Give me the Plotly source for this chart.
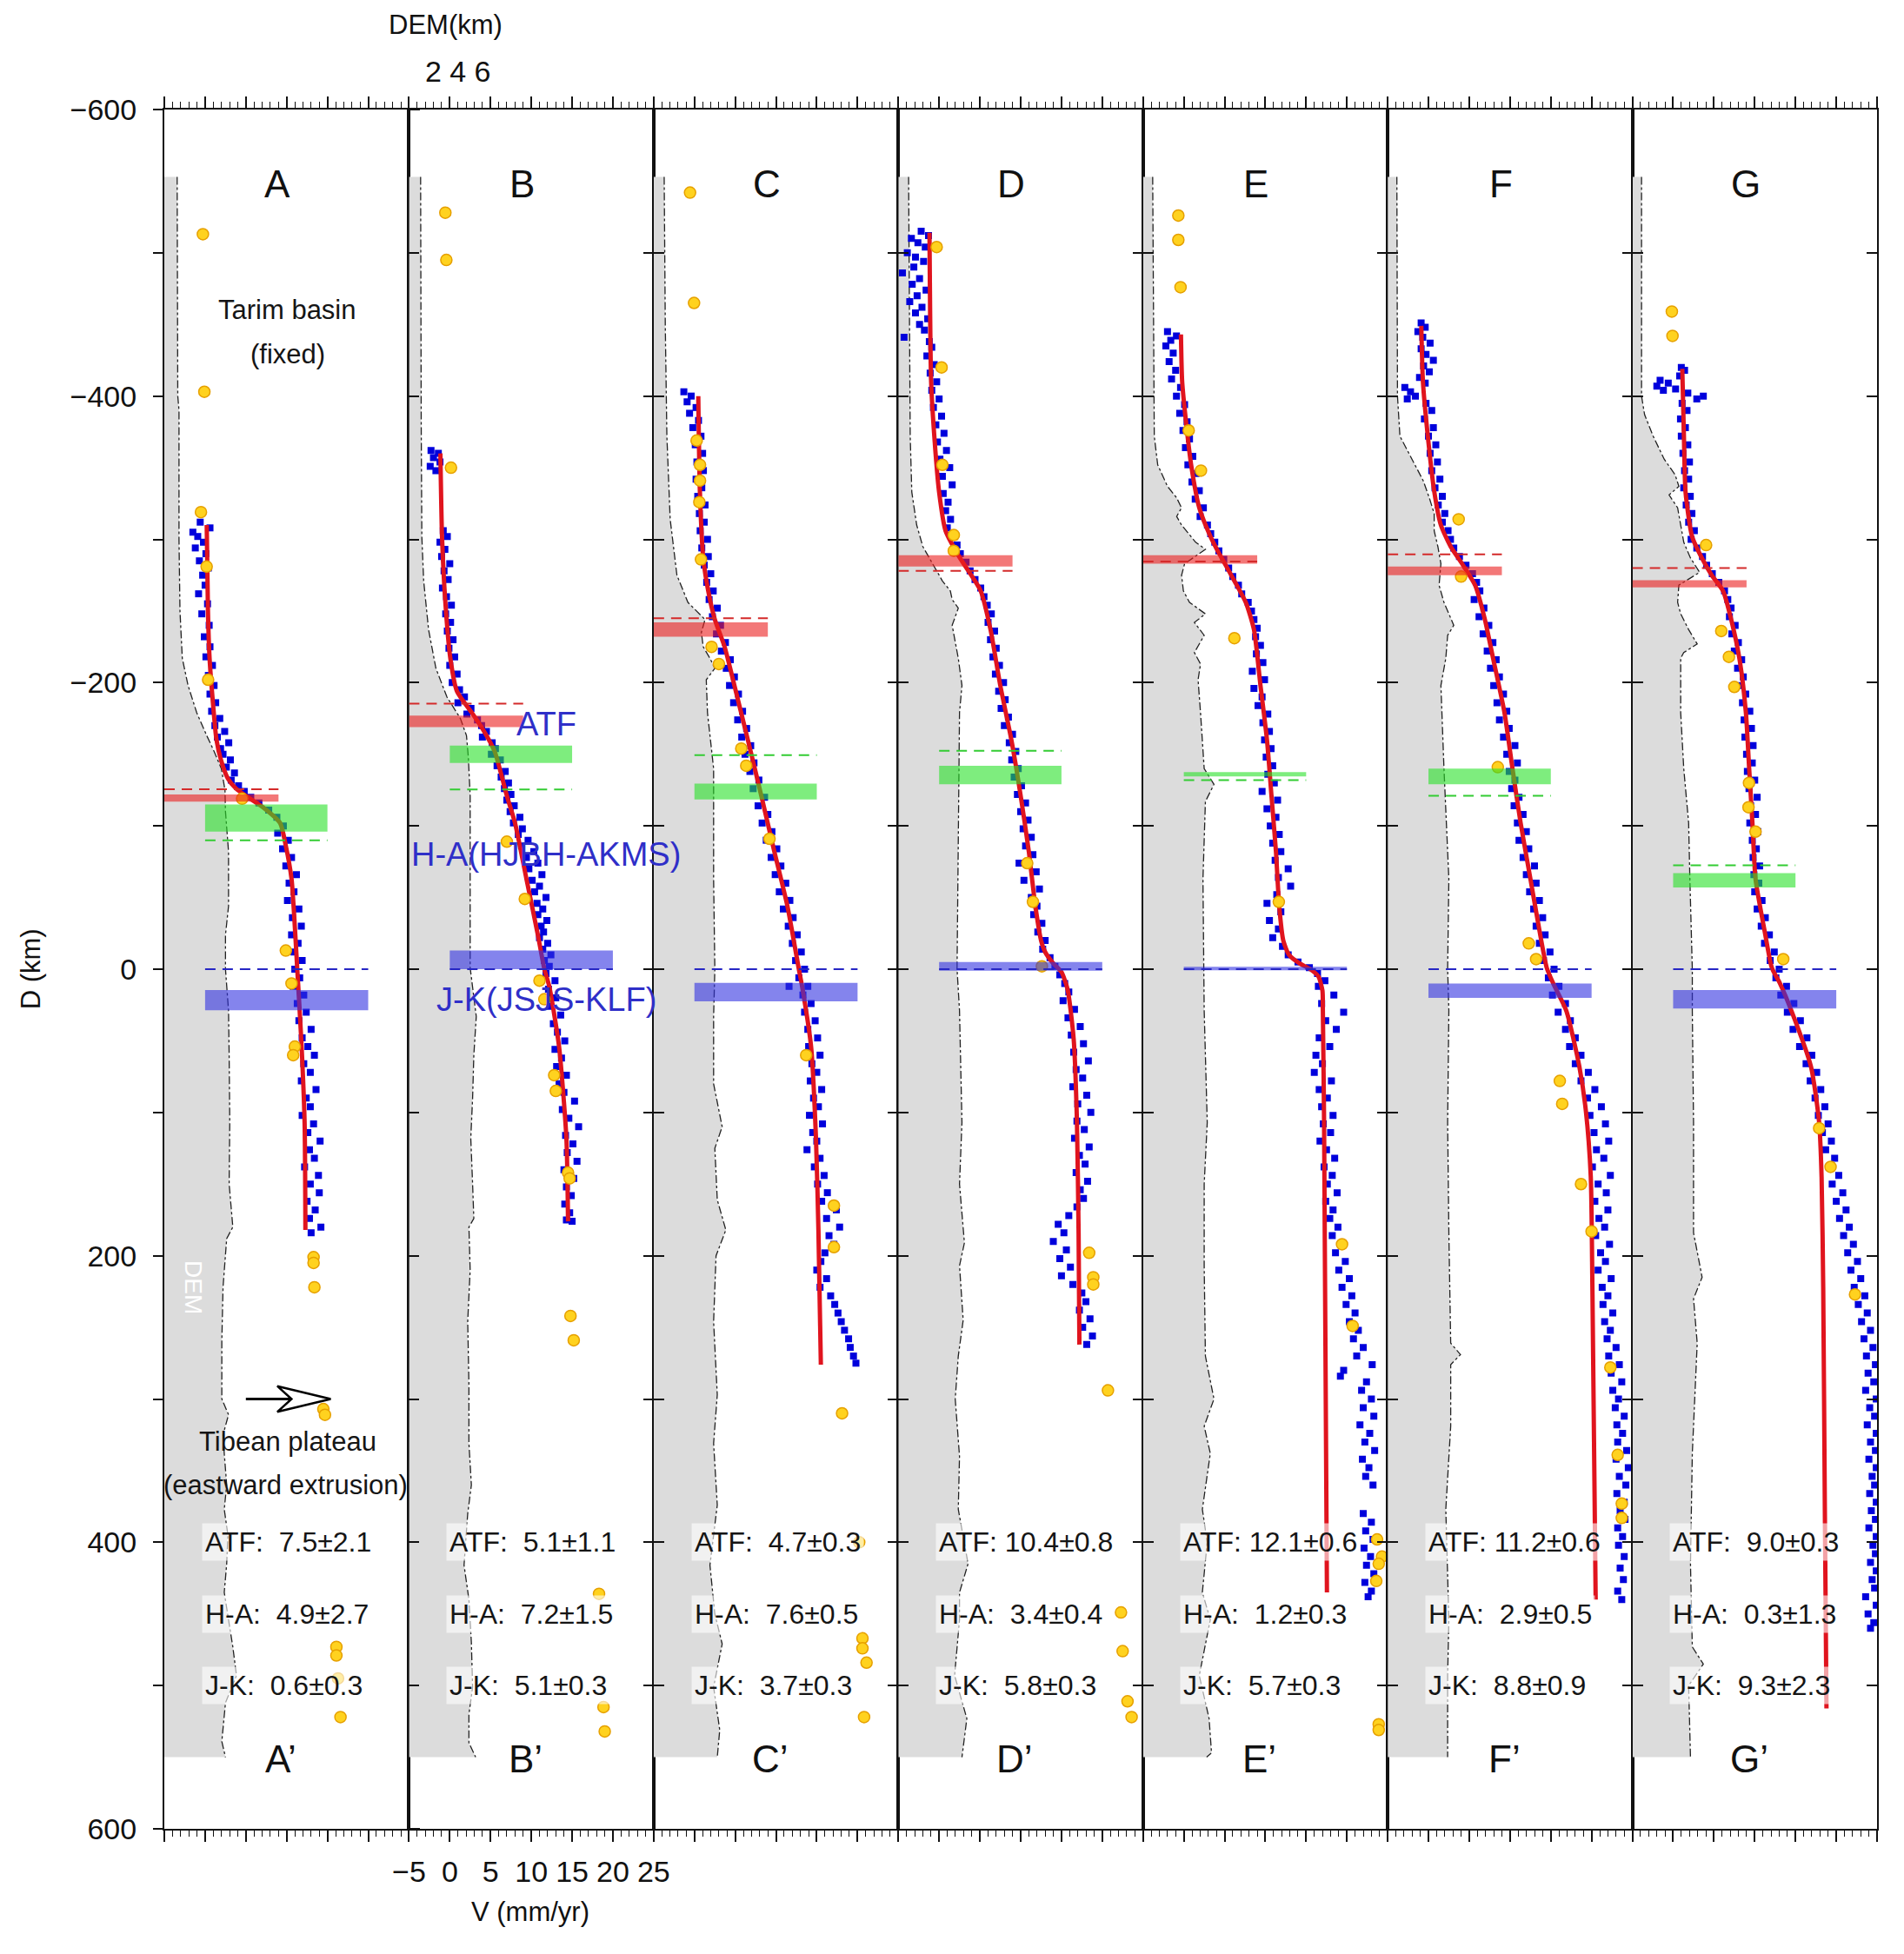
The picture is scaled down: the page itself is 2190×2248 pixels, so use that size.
import plotly.graph_objects as go

panels = ["A", "B", "C", "D", "E", "F", "G"]

# topography along each profile: (D km, elevation km)
dem_A = [(-553, 1.05), (-500, 1.05), (-450, 1.1), (-400, 1.1), (-390, 1.2), (-300, 1.2), (-250, 1.28), (-217, 1.47),
         (-198, 1.94), (-179, 2.65), (-163, 3.47), (-152, 4.07), (-140, 4.66), (-125, 4.96), (-110, 5.0), (-82, 5.25),
         (-44, 5.25), (-24, 5.0), (0, 5.0), (29, 5.25), (60, 5.3), (107, 5.35), (150, 5.3), (180, 5.6), (188, 5.1),
         (222, 4.8), (260, 4.7), (300, 4.7), (311, 5.25), (325, 4.8), (338, 4.9), (360, 5.1), (377, 4.9), (395, 5.2),
         (415, 5.1), (435, 4.9), (454, 5.25), (473, 5.6), (493, 5.9), (512, 5.0), (539, 4.7), (550, 5.0)]
dem_B = [(-553, 0.95), (-450, 0.95), (-380, 1.0), (-302, 1.05), (-271, 1.2), (-237, 1.6), (-210, 2.2), (-190, 3.1),
         (-175, 4.2), (-163, 4.7), (-148, 4.85), (-121, 5.0), (-80, 5.0), (-40, 5.0), (-1, 5.0), (33, 5.5), (60, 5.3),
         (90, 5.2), (118, 5.05), (150, 5.2), (174, 5.3), (180, 4.9), (210, 5.0), (246, 4.8), (290, 4.9), (331, 4.9),
         (360, 5.1), (380, 4.8), (416, 4.5), (440, 4.9), (470, 5.1), (501, 5.2), (520, 4.9), (540, 4.9), (550, 5.45)]
dem_C = [(-553, 0.86), (-449, 0.95), (-372, 1.08), (-314, 1.35), (-275, 1.9), (-256, 2.8), (-244, 4.2), (-235, 3.9),
         (-225, 4.05), (-217, 4.6), (-210, 5.0), (-202, 4.3), (-179, 4.4), (-140, 4.9), (-63, 4.9), (0, 5.0), (33, 4.9),
         (80, 4.9), (110, 5.6), (125, 5.0), (161, 5.2), (182, 5.9), (200, 5.1), (246, 4.9), (297, 5.2), (331, 4.9),
         (374, 5.2), (416, 4.6), (450, 5.0), (471, 5.6), (501, 4.9), (531, 5.4), (550, 5.2)]
dem_D = [(-553, 0.84), (-450, 0.9), (-372, 0.97), (-333, 1.1), (-310, 1.5), (-295, 2.0), (-283, 2.8), (-271, 3.6),
         (-264, 4.25), (-258, 4.4), (-252, 4.9), (-240, 4.4), (-217, 4.9), (-198, 5.2), (-179, 5.0), (-101, 4.9),
         (0, 4.8), (29, 5.0), (107, 5.2), (150, 5.0), (191, 5.4), (207, 5.0), (245, 5.3), (270, 4.9), (300, 4.65),
         (340, 5.0), (377, 4.9), (415, 5.7), (435, 5.0), (454, 5.0), (493, 4.6), (523, 5.6), (550, 5.2)]
dem_E = [(-553, 0.79), (-450, 0.85), (-372, 0.92), (-352, 1.2), (-337, 2.0), (-329, 2.75), (-322, 3.15), (-316, 2.75),
         (-310, 3.15), (-298, 4.3), (-293, 5.1), (-283, 3.4), (-275, 3.15), (-264, 3.3), (-256, 3.8), (-248, 5.1),
         (-242, 4.2), (-233, 5.0), (-221, 4.2), (-213, 4.7), (-202, 4.5), (-179, 4.7), (-140, 5.0), (-129, 5.8),
         (-117, 5.1), (-63, 4.9), (0, 5.0), (29, 5.0), (107, 5.25), (150, 5.0), (207, 5.0), (270, 5.1), (300, 5.8),
         (319, 5.0), (338, 5.5), (377, 4.85), (400, 5.25), (435, 4.85), (454, 5.5), (493, 4.6), (523, 5.4),
         (547, 5.6), (550, 5.2)]
dem_F = [(-553, 0.75), (-400, 0.8), (-372, 1.0), (-356, 1.95), (-341, 2.9), (-329, 3.4), (-318, 3.8), (-306, 3.8),
         (-295, 4.1), (-283, 4.35), (-268, 4.2), (-256, 4.6), (-240, 5.4), (-233, 4.9), (-217, 4.75), (-198, 4.35),
         (-140, 4.6), (-63, 5.0), (0, 4.9), (29, 5.0), (107, 4.9), (184, 5.0), (261, 5.15), (269, 5.95), (276, 5.15),
         (319, 5.15), (377, 4.75), (454, 5.0), (493, 4.9), (550, 4.9)]
dem_G = [(-553, 0.75), (-400, 0.75), (-387, 1.0), (-372, 1.7), (-356, 2.6), (-345, 3.5), (-337, 3.8), (-331, 3.0),
         (-322, 3.7), (-298, 4.2), (-287, 4.75), (-277, 5.5), (-268, 3.8), (-256, 3.7), (-248, 3.95), (-237, 4.6),
         (-227, 5.3), (-221, 4.2), (-217, 3.95), (-179, 3.95), (-140, 4.2), (-102, 4.6), (-63, 4.7), (0, 4.9),
         (29, 4.9), (107, 5.0), (184, 5.0), (215, 5.7), (230, 5.0), (261, 5.3), (338, 4.9), (415, 4.75), (473, 4.9),
         (485, 5.8), (500, 4.6), (547, 4.75), (550, 4.75)]

# fitted velocity model (D km, V mm/yr)
model_A = [(-310, 0.2), (-250, 0.35), (-217, 0.55), (-190, 0.9), (-160, 1.4), (-145, 2.0), (-133, 2.8), (-126, 3.8),
           (-121, 5.0), (-113, 7.1), (-102, 9.2), (-86, 9.9), (-63, 10.6), (-30, 11.0), (0, 11.3), (50, 11.8),
           (107, 12.2), (182, 12.3)]
model_B = [(-360, -1.15), (-302, -0.95), (-256, -0.54), (-217, 0.07), (-194, 0.88), (-179, 2.7), (-167, 4.1),
           (-152, 5.5), (-121, 7.0), (-102, 8.0), (-63, 9.4), (-24, 10.8), (0, 11.6), (12, 12.2), (54, 13.4),
           (118, 14.3), (176, 14.5)]
model_C = [(-400, 0.47), (-333, 0.67), (-287, 1.08), (-264, 1.69), (-244, 2.5), (-225, 3.7), (-198, 4.9),
           (-160, 6.55), (-121, 8.2), (-82, 9.8), (-44, 11.4), (0, 12.8), (12, 13.2), (54, 14.3), (118, 14.9),
           (182, 15.2), (276, 15.5)]
model_D = [(-514, -1.18), (-410, -0.98), (-372, -0.59), (-333, 0.0), (-306, 0.79), (-287, 2.56), (-275, 3.94),
           (-264, 5.1), (-237, 6.3), (-198, 7.5), (-160, 8.86), (-121, 10.0), (-82, 11.0), (-44, 11.8), (-20, 12.5),
           (-12, 13.0), (-4, 14.0), (2, 15.0), (14, 15.75), (49, 16.5), (107, 16.9), (184, 17.1), (262, 17.2)]
model_E = [(-443, -0.35), (-410, -0.2), (-380, 0.31), (-352, 0.9), (-322, 1.9), (-302, 3.27), (-291, 4.25),
           (-283, 5.04), (-271, 6.2), (-256, 7.6), (-237, 8.6), (-198, 9.4), (-160, 10.2), (-121, 10.75), (-82, 11.3),
           (-44, 11.7), (-20, 12.2), (-10, 12.9), (-4, 14.2), (0, 15.5), (5, 16.5), (15, 17.0), (29, 17.05),
           (107, 17.2), (435, 17.55)]
model_F = [(-449, -0.88), (-410, -0.68), (-372, -0.08), (-333, 0.72), (-310, 1.52), (-295, 2.72), (-283, 4.12),
           (-268, 5.72), (-244, 6.92), (-217, 7.92), (-179, 9.32), (-140, 10.3), (-102, 11.3), (-63, 12.5),
           (-24, 13.7), (-1, 14.5), (10, 15.3), (29, 16.9), (68, 18.5), (99, 19.3), (145, 19.9), (222, 20.1),
           (440, 20.5)]
model_G = [(-419, 1.12), (-372, 1.32), (-333, 1.52), (-302, 2.32), (-287, 3.52), (-275, 4.72), (-264, 6.12),
           (-244, 7.12), (-217, 8.12), (-179, 8.92), (-140, 9.32), (-102, 9.72), (-63, 10.1), (-24, 11.3),
           (-1, 12.1), (10, 13.1), (29, 14.5), (68, 16.9), (107, 17.9), (145, 18.2), (222, 18.4), (377, 18.6),
           (516, 18.8)]

# InSAR profile velocities (D km, V mm/yr)
insar_A = [(-312, -0.6), (-308, 0.6), (-305, -1.5), (-302, -0.9), (-298, -0.2), (-294, -1.2), (-290, 0.1), (-285, -0.7),
           (-280, 0.4), (-275, -0.3), (-268, 0.0), (-262, -0.8), (-255, 0.3), (-248, -0.4), (-240, 0.5), (-232, -0.1),
           (-225, 0.6), (-218, 0.1), (-212, 0.9), (-205, 0.4), (-198, 1.1), (-192, 0.6), (-186, 1.3), (-180, 0.8),
           (-175, 1.8), (-170, 1.2), (-166, 2.4), (-162, 1.5), (-158, 2.9), (-154, 1.9), (-150, 2.2), (-146, 3.1),
           (-141, 2.6), (-137, 3.6), (-132, 3.2), (-128, 4.1), (-124, 4.8), (-120, 5.6), (-116, 6.6), (-111, 7.8),
           (-106, 8.8), (-100, 9.6), (-95, 8.9), (-90, 10.2), (-84, 9.5), (-78, 10.6), (-72, 9.9), (-66, 11.2),
           (-60, 10.3), (-54, 10.9), (-48, 10.1), (-42, 11.5), (-36, 10.7), (-30, 11.8), (-24, 10.6), (-18, 11.4),
           (-12, 10.9), (-6, 11.9), (0, 11.0), (6, 11.6), (12, 10.8), (18, 12.1), (24, 11.3), (30, 12.4), (36, 11.5),
           (42, 13.0), (48, 11.9), (54, 12.6), (60, 13.4), (66, 12.1), (72, 12.9), (78, 11.8), (84, 13.6), (90, 12.4),
           (96, 12.9), (102, 11.9), (108, 13.3), (114, 12.6), (120, 14.1), (126, 12.8), (132, 13.4), (138, 12.2),
           (144, 13.9), (150, 12.9), (156, 14.0), (162, 12.5), (168, 13.5), (174, 12.8), (180, 14.2), (184, 13.0)]
insar_B = [(-362, -2.3), (-360, -1.4), (-357, -2.0), (-354, -1.2), (-351, -2.4), (-348, -1.7), (-306, -0.8),
           (-302, -0.3), (-298, -1.2), (-293, -0.6), (-288, -1.0), (-283, 0.0), (-278, -0.7), (-272, -0.2),
           (-266, -0.9), (-260, -0.4), (-254, 0.2), (-248, -0.5), (-242, 0.1), (-236, -0.3), (-230, 0.4),
           (-224, -0.1), (-218, 0.6), (-212, 0.0), (-206, 0.9), (-200, 0.3), (-195, 1.2), (-190, 1.8), (-186, 1.0),
           (-182, 2.6), (-178, 2.1), (-174, 3.4), (-170, 3.9), (-166, 4.5), (-162, 4.0), (-158, 5.2), (-154, 5.6),
           (-150, 5.1), (-146, 6.2), (-142, 5.8), (-138, 6.8), (-134, 6.3), (-130, 7.2), (-126, 6.7), (-122, 7.5),
           (-118, 7.0), (-114, 7.9), (-110, 7.4), (-106, 8.6), (-102, 7.8), (-98, 8.9), (-94, 8.4), (-90, 9.6),
           (-86, 8.8), (-82, 10.3), (-78, 9.4), (-74, 10.8), (-70, 9.7), (-66, 11.3), (-62, 10.1), (-58, 11.0),
           (-54, 10.4), (-50, 11.8), (-46, 10.7), (-42, 11.4), (-38, 10.8), (-34, 11.9), (-30, 11.2), (-26, 11.5),
           (-22, 11.0), (-18, 12.0), (-14, 11.4), (-10, 12.4), (-6, 11.6), (-2, 12.2), (3, 11.8), (8, 12.9),
           (14, 12.1), (20, 13.0), (26, 12.3), (32, 13.6), (38, 12.7), (44, 13.2), (50, 14.1), (56, 12.9), (62, 13.7),
           (68, 13.1), (74, 14.3), (80, 13.4), (86, 14.0), (92, 15.3), (98, 13.8), (104, 14.6), (110, 15.8),
           (116, 14.2), (122, 15.1), (128, 14.4), (134, 15.6), (140, 14.0), (146, 15.2), (152, 14.3), (158, 14.9),
           (164, 14.1), (170, 14.7), (175, 14.3), (176, 15.0)]
insar_C = [(-403, -1.3), (-400, -0.4), (-396, -0.9), (-392, 0.2), (-388, -0.6), (-383, 0.5), (-378, -0.2), (-372, 0.8),
           (-366, 0.1), (-360, 1.0), (-354, 0.3), (-348, 1.1), (-342, 0.2), (-336, 0.9), (-330, 0.4), (-324, 1.3),
           (-318, 0.6), (-312, 1.2), (-306, 0.7), (-300, 1.6), (-294, 0.9), (-288, 1.7), (-282, 1.2), (-276, 2.0),
           (-270, 1.5), (-264, 2.3), (-258, 1.8), (-252, 2.8), (-246, 2.2), (-240, 3.2), (-234, 2.7), (-228, 3.8),
           (-222, 3.3), (-216, 4.4), (-210, 3.9), (-204, 4.9), (-198, 4.3), (-192, 5.4), (-186, 4.8), (-180, 5.9),
           (-174, 5.3), (-168, 6.4), (-162, 5.8), (-156, 6.9), (-150, 6.2), (-144, 7.3), (-138, 6.8), (-132, 7.9),
           (-126, 7.2), (-120, 8.6), (-114, 7.8), (-108, 9.0), (-102, 8.3), (-96, 9.5), (-90, 8.8), (-84, 10.1),
           (-78, 9.4), (-72, 10.6), (-66, 9.9), (-60, 11.2), (-54, 10.4), (-48, 11.7), (-42, 10.9), (-36, 12.1),
           (-30, 11.5), (-24, 12.6), (-18, 12.0), (-12, 13.1), (-6, 12.4), (0, 13.5), (6, 12.8), (12, 13.9),
           (12, 11.6), (18, 13.3), (24, 14.3), (30, 13.5), (36, 14.8), (42, 13.9), (48, 15.1), (54, 14.0), (60, 15.4),
           (66, 14.4), (72, 15.0), (78, 14.2), (84, 15.6), (90, 14.6), (96, 15.2), (102, 14.1), (108, 15.7),
           (114, 14.5), (120, 15.0), (126, 13.8), (132, 15.4), (138, 14.7), (144, 15.9), (150, 15.1), (156, 16.3),
           (162, 15.6), (168, 17.4), (174, 16.2), (180, 17.8), (186, 16.5), (192, 17.1), (198, 16.0), (204, 15.5),
           (210, 15.0), (216, 16.2), (222, 15.4), (228, 16.7), (234, 17.2), (240, 17.6), (246, 18.0), (252, 18.4),
           (258, 18.9), (264, 19.1), (270, 19.5), (275, 19.8)]
insar_D = [(-515, -2.2), (-512, -1.3), (-510, -3.4), (-507, -2.6), (-504, -1.7), (-500, -3.9), (-497, -2.9),
           (-494, -1.9), (-490, -3.1), (-486, -4.5), (-482, -2.4), (-478, -3.3), (-474, -1.6), (-470, -2.7),
           (-466, -3.6), (-462, -2.1), (-458, -2.9), (-454, -1.4), (-450, -2.4), (-446, -1.8), (-441, -4.3),
           (-438, -1.2), (-434, -0.9), (-428, -1.5), (-422, -0.6), (-416, -1.1), (-410, -0.3), (-404, -0.9),
           (-398, 0.0), (-392, -0.7), (-386, 0.3), (-380, -0.4), (-374, 0.6), (-368, -0.2), (-362, 0.9), (-356, 0.1),
           (-350, 1.3), (-344, 0.4), (-338, 1.6), (-332, 0.5), (-326, 1.1), (-320, 0.8), (-314, 1.4), (-308, 1.0),
           (-302, 1.9), (-296, 2.2), (-290, 2.6), (-284, 3.3), (-278, 3.8), (-272, 4.4), (-266, 5.1), (-260, 5.5),
           (-254, 5.9), (-248, 6.4), (-242, 6.0), (-236, 6.8), (-230, 6.3), (-224, 7.0), (-218, 6.6), (-212, 7.4),
           (-206, 6.9), (-200, 7.9), (-194, 7.3), (-188, 8.1), (-182, 7.6), (-176, 8.5), (-170, 8.0), (-164, 9.0),
           (-158, 8.6), (-152, 9.4), (-146, 8.9), (-140, 9.7), (-134, 9.2), (-128, 10.1), (-122, 9.6), (-116, 10.6),
           (-110, 10.0), (-104, 10.9), (-98, 10.3), (-92, 11.3), (-86, 10.6), (-80, 11.5), (-74, 9.8), (-68, 11.9),
           (-62, 10.4), (-56, 12.3), (-50, 11.3), (-44, 12.0), (-38, 11.6), (-32, 12.6), (-26, 12.1), (-20, 13.0),
           (-14, 12.7), (-8, 13.6), (-2, 14.2), (4, 14.8), (10, 15.4), (16, 15.9), (22, 15.2), (28, 16.6), (34, 15.8),
           (40, 17.3), (46, 16.2), (52, 17.7), (58, 16.5), (64, 18.3), (70, 16.8), (76, 17.6), (82, 16.4), (88, 18.1),
           (94, 17.0), (100, 18.6), (106, 16.9), (112, 17.8), (118, 16.6), (124, 18.4), (130, 17.2), (136, 17.9),
           (142, 16.8), (148, 18.2), (154, 17.3), (160, 17.7), (166, 16.9), (172, 15.9), (178, 14.6), (184, 15.3),
           (190, 14.0), (196, 15.6), (202, 14.8), (208, 16.1), (214, 15.0), (220, 16.4), (226, 17.5), (232, 18.0),
           (238, 17.2), (244, 18.5), (250, 17.6), (256, 18.8), (262, 18.1)]
insar_E = [(-445, -2.0), (-442, -0.9), (-439, -1.6), (-435, -2.2), (-430, -1.3), (-424, -1.8), (-418, -1.0),
           (-412, -1.5), (-406, -0.4), (-400, -0.9), (-394, 0.1), (-388, -0.5), (-382, 0.4), (-376, -0.1), (-370, 0.7),
           (-364, 0.2), (-358, 1.1), (-352, 0.5), (-346, 1.5), (-340, 1.0), (-334, 1.9), (-328, 1.4), (-322, 2.4),
           (-316, 2.0), (-310, 2.9), (-304, 3.3), (-298, 3.8), (-292, 4.3), (-286, 4.9), (-280, 5.5), (-274, 6.0),
           (-268, 6.7), (-262, 7.1), (-256, 7.9), (-250, 8.3), (-244, 8.6), (-238, 9.0), (-232, 8.8), (-226, 9.4),
           (-220, 8.9), (-214, 9.7), (-208, 8.4), (-202, 9.9), (-196, 8.6), (-190, 9.6), (-184, 9.1), (-178, 10.3),
           (-172, 9.7), (-166, 10.5), (-160, 9.9), (-154, 10.7), (-148, 10.1), (-142, 10.9), (-136, 10.3),
           (-130, 11.1), (-124, 9.6), (-118, 11.5), (-112, 10.2), (-106, 11.3), (-100, 10.6), (-94, 11.7), (-88, 10.9),
           (-82, 11.9), (-76, 11.2), (-70, 12.8), (-64, 11.6), (-58, 13.1), (-52, 11.4), (-46, 10.2), (-40, 11.9),
           (-34, 10.5), (-28, 11.6), (-22, 10.9), (-16, 12.1), (-10, 12.8), (-5, 14.0), (-1, 15.4), (3, 16.4),
           (8, 17.3), (12, 16.5), (18, 18.4), (24, 16.9), (30, 19.6), (36, 17.4), (42, 18.7), (48, 16.6), (54, 17.9),
           (60, 16.2), (66, 17.0), (72, 16.0), (78, 18.1), (84, 16.6), (90, 17.6), (96, 16.9), (102, 18.3), (108, 17.1),
           (114, 18.0), (120, 16.7), (126, 17.5), (132, 18.5), (138, 17.2), (144, 18.2), (150, 17.6), (156, 18.8),
           (162, 17.4), (168, 18.3), (174, 17.9), (180, 18.9), (186, 18.2), (192, 19.4), (198, 18.6), (204, 19.8),
           (210, 19.0), (216, 20.3), (222, 19.4), (228, 20.6), (234, 19.9), (240, 21.0), (246, 20.3), (252, 21.4),
           (258, 20.8), (264, 22.0), (270, 21.2), (276, 23.1), (280, 19.6), (284, 19.2), (288, 22.4), (294, 21.8),
           (300, 23.0), (306, 22.0), (312, 23.3), (318, 21.6), (324, 22.8), (330, 22.2), (336, 23.4), (342, 21.9),
           (348, 22.7), (354, 22.3), (360, 23.2), (380, 22.0), (386, 23.0), (392, 22.3), (398, 23.2), (404, 22.1),
           (410, 22.9), (416, 22.4), (422, 23.3), (428, 22.2), (434, 23.0), (438, 22.6)]
insar_F = [(-451, -0.9), (-448, -0.4), (-445, -1.3), (-441, -0.7), (-437, 0.2), (-433, -0.9), (-429, -0.3), (-425, 0.6),
           (-421, -0.6), (-417, 0.1), (-413, -1.1), (-409, -0.4), (-406, -2.9), (-403, -2.2), (-400, -1.6),
           (-398, -2.6), (-395, -0.3), (-390, 0.4), (-384, -0.5), (-378, 0.6), (-372, 0.0), (-366, 0.9), (-360, 0.2),
           (-354, 1.1), (-348, 0.4), (-342, 1.4), (-336, 0.8), (-330, 1.7), (-324, 1.2), (-318, 2.0), (-312, 1.7),
           (-306, 2.4), (-300, 2.7), (-294, 3.1), (-288, 3.8), (-282, 4.6), (-276, 5.4), (-270, 5.9), (-264, 6.3),
           (-258, 5.6), (-252, 6.8), (-246, 6.2), (-240, 7.4), (-234, 6.7), (-228, 7.9), (-222, 7.2), (-216, 8.3),
           (-210, 7.6), (-204, 8.7), (-198, 8.0), (-192, 9.2), (-186, 8.4), (-180, 9.6), (-174, 8.7), (-168, 9.9),
           (-162, 9.2), (-156, 10.6), (-150, 9.6), (-144, 10.9), (-138, 9.9), (-132, 10.6), (-126, 10.2),
           (-120, 11.1), (-114, 10.5), (-108, 11.6), (-102, 10.9), (-96, 12.0), (-90, 11.1), (-84, 12.3), (-78, 11.6),
           (-72, 13.0), (-66, 12.0), (-60, 13.2), (-54, 12.4), (-48, 13.6), (-42, 12.9), (-36, 14.0), (-30, 13.2),
           (-24, 14.3), (-18, 13.6), (-12, 14.9), (-6, 14.1), (0, 15.4), (6, 14.7), (12, 16.0), (18, 15.2), (24, 16.8),
           (30, 15.9), (36, 17.4), (42, 16.8), (48, 18.0), (54, 17.3), (60, 18.7), (66, 18.0), (72, 19.6), (78, 18.7),
           (84, 20.4), (90, 19.5), (96, 21.2), (102, 19.8), (108, 21.7), (114, 20.3), (120, 22.1), (126, 20.6),
           (132, 21.5), (138, 20.1), (144, 22.3), (150, 20.8), (156, 21.8), (162, 20.4), (168, 22.0), (174, 20.9),
           (180, 21.6), (186, 20.5), (192, 22.2), (198, 21.1), (204, 21.7), (210, 20.8), (216, 22.4), (222, 21.3),
           (228, 22.0), (234, 21.4), (240, 22.6), (246, 21.6), (252, 22.3), (258, 21.9), (264, 23.0), (270, 22.1),
           (276, 23.4), (282, 22.4), (288, 23.7), (294, 22.6), (300, 23.3), (306, 22.9), (312, 24.0), (318, 23.1),
           (324, 23.8), (330, 23.2), (336, 24.3), (342, 23.0), (348, 24.5), (354, 23.4), (360, 24.2), (366, 23.1),
           (372, 24.0), (378, 23.5), (384, 24.1), (390, 23.2), (396, 23.8), (402, 23.3), (410, 24.0), (418, 23.5),
           (426, 23.9), (434, 23.2), (440, 23.7)]
insar_G = [(-420, 1.0), (-418, 1.4), (-414, 0.8), (-411, -1.6), (-409, -0.6), (-407, -2.0), (-405, 0.3), (-404, -1.2),
           (-402, 1.8), (-400, 3.7), (-398, 2.9), (-395, 1.1), (-390, 1.7), (-384, 0.9), (-378, 1.5), (-372, 1.0),
           (-366, 1.8), (-360, 1.2), (-354, 2.0), (-348, 1.4), (-342, 1.9), (-336, 1.3), (-330, 2.1), (-324, 1.6),
           (-318, 2.3), (-312, 1.9), (-306, 2.6), (-300, 2.2), (-294, 2.9), (-288, 3.6), (-282, 4.1), (-276, 4.8),
           (-270, 5.6), (-264, 6.3), (-258, 6.7), (-252, 7.1), (-246, 6.9), (-240, 7.6), (-234, 7.2), (-228, 8.0),
           (-222, 7.5), (-216, 8.4), (-210, 7.9), (-204, 8.6), (-198, 8.2), (-192, 8.9), (-186, 8.5), (-180, 9.4),
           (-174, 8.7), (-168, 9.6), (-162, 8.8), (-156, 9.8), (-150, 9.0), (-144, 9.7), (-138, 9.1), (-132, 10.0),
           (-126, 9.3), (-120, 10.3), (-114, 9.5), (-108, 10.1), (-102, 9.4), (-96, 10.4), (-90, 9.7), (-84, 10.2),
           (-78, 9.8), (-72, 10.6), (-66, 9.9), (-60, 10.5), (-54, 10.0), (-48, 10.9), (-42, 10.3), (-36, 11.3),
           (-30, 10.8), (-24, 11.8), (-18, 11.2), (-12, 12.4), (-6, 11.9), (0, 13.0), (6, 12.6), (12, 13.9),
           (18, 13.2), (24, 14.8), (30, 14.0), (36, 15.6), (42, 14.7), (48, 16.4), (54, 15.5), (60, 17.0), (66, 16.3),
           (72, 17.6), (78, 16.8), (84, 18.1), (90, 17.4), (96, 18.6), (102, 17.8), (108, 19.0), (114, 18.3),
           (120, 19.4), (126, 18.7), (132, 19.8), (138, 19.1), (144, 20.3), (150, 19.5), (156, 20.8), (162, 20.0),
           (168, 21.2), (174, 20.4), (180, 21.6), (186, 20.9), (192, 22.1), (198, 21.4), (204, 22.6), (210, 21.8),
           (216, 23.0), (222, 22.2), (228, 23.5), (234, 22.7), (240, 23.8), (246, 23.1), (252, 24.2), (258, 23.4),
           (264, 24.5), (270, 23.7), (276, 24.8), (282, 23.9), (288, 24.6), (294, 23.6), (300, 24.9), (306, 24.1),
           (312, 24.7), (318, 23.8), (324, 24.9), (330, 24.2), (336, 24.8), (342, 24.0), (348, 24.9), (354, 24.4),
           (360, 24.7), (366, 24.1), (372, 24.9), (378, 24.3), (384, 24.8), (390, 24.0), (396, 24.9), (402, 24.5),
           (408, 24.8), (414, 24.2), (420, 24.9), (426, 24.4), (432, 24.7), (438, 23.6), (444, 24.9), (450, 23.9),
           (456, 24.6), (460, 24.2)]

# GPS stations (D km, V mm/yr)
gps_A = [(-513, -0.27), (-403, -0.09), (-319, -0.51), (-281, 0.19), (-202, 0.37), (-119, 4.54), (-13, 9.9), (10, 10.6),
         (54, 11.0), (60, 10.8), (201, 13.3), (205, 13.3), (222, 13.4), (307, 14.5), (311, 14.7), (473, 16.1),
         (479, 16.1), (495, 16.3), (522, 16.6)]
gps_B = [(-528, -0.54), (-495, -0.42), (-350, 0.15), (-89, 7.0), (-49, 9.2), (8, 11.0), (21, 11.6), (74, 12.8),
         (85, 13.0), (142, 14.5), (146, 14.7), (242, 14.8), (259, 15.2), (436, 18.3), (515, 18.85), (532, 19.0)]
gps_C = [(-542, -0.54), (-465, -0.05), (-369, 0.27), (-352, 0.68), (-341, 0.68), (-326, 0.6), (-286, 0.8), (-225, 2.1),
         (-213, 3.0), (-154, 5.74), (-142, 6.35), (-91, 9.2), (60, 13.7), (165, 17.1), (194, 17.1), (310, 18.1),
         (400, 20.2), (467, 20.6), (474, 20.6), (484, 21.1), (522, 20.8)]
gps_D = [(-504, -0.3), (-420, 0.3), (-352, 0.4), (-303, 1.8), (-292, 1.8), (-74, 10.8), (-47, 11.5), (-2, 12.6),
         (198, 18.4), (215, 18.9), (220, 18.9), (294, 20.7), (449, 22.3), (476, 22.5), (511, 23.1), (522, 23.6)]
gps_E = [(-526, -0.67), (-509, -0.67), (-476, -0.4), (-376, 0.6), (-348, 2.1), (-231, 6.2), (-47, 11.65), (192, 19.4),
         (249, 20.7), (398, 23.7), (410, 24.3), (415, 23.9), (427, 23.6), (527, 23.9), (531, 23.9)]
gps_F = [(-314, 3.7), (-274, 4.0), (-141, 8.5), (-18, 12.3), (-7, 13.2), (78, 16.1), (94, 16.4), (150, 18.7),
         (183, 20.0), (278, 22.3), (339, 23.2), (373, 23.7), (383, 23.7)]
gps_G = [(-459, -0.16), (-442, -0.08), (-296, 4.04), (-236, 5.9), (-218, 6.84), (-197, 7.5), (-130, 9.3),
         (-113, 9.24), (-96, 10.1), (-7, 13.5), (111, 17.9), (138, 19.3), (227, 22.3)]

# fault positions per panel: (centre D, half width) of the band, D of the dashed line
atf_band = [(-119.5, 2.5), (-173, 4), (-237, 5), (-285, 4), (-286, 3), (-278, 3), (-269, 2.5)]
atf_dash = [-125.6, -185.3, -245, -278, -284.5, -289.5, -280]
ha_band = [(-105.5, 9.5), (-150, 6), (-124, 5.5), (-135.5, 6.5), (-136, 1.5), (-134.5, 5.5), (-62, 5)]
ha_dash = [-90, -125.5, -149.4, -152.5, -132, -121, -72.5]
jk_band = [(21.6, 7), (-6.5, 6.5), (16, 6.5), (-2, 3), (-0.5, 1.2), (15, 5), (21, 6.5)]
jk_dash = [0, 0, 0, 0, 0, 0, 0]

# slip rates (mm/yr)
atf_rate = ["7.5±2.1", "5.1±1.1", "4.7±0.3", "10.4±0.8", "12.1±0.6", "11.2±0.6", "9.0±0.3"]
ha_rate = ["4.9±2.7", "7.2±1.5", "7.6±0.5", "3.4±0.4", "1.2±0.3", "2.9±0.5", "0.3±1.3"]
jk_rate = ["0.6±0.3", "5.1±0.3", "3.7±0.3", "5.8±0.3", "5.7±0.3", "8.8±0.9", "9.3±2.3"]

dems = [dem_A, dem_B, dem_C, dem_D, dem_E, dem_F, dem_G]
models = [model_A, model_B, model_C, model_D, model_E, model_F, model_G]
insars = [insar_A, insar_B, insar_C, insar_D, insar_E, insar_F, insar_G]
gpss = [gps_A, gps_B, gps_C, gps_D, gps_E, gps_F, gps_G]

FONT = "Liberation Sans, Arial, Helvetica, sans-serif"
NBSP = "\u00a0"


def ref(prefix, k):
    return prefix if k == 1 else f"{prefix}{k}"


fig = go.Figure()
n = len(panels)

for i, p in enumerate(panels):
    xd = ref("x", i + 1)       # DEM axis (base)
    xv = ref("x", i + 1 + n)   # velocity axis (overlay)
    ya = ref("y", i + 1)

    d, h = zip(*dems[i])
    fig.add_trace(go.Scatter(x=h, y=d, xaxis=xd, yaxis=ya, mode="lines", fill="tozerox",
                             fillcolor="#dcdcdc", line=dict(color="#222", width=1.3, dash="dashdot")))

    d, v = zip(*insars[i])
    fig.add_trace(go.Scatter(x=v, y=d, xaxis=xv, yaxis=ya, mode="markers",
                             marker=dict(symbol="square", size=8, color="#0000dc", line=dict(width=0))))

    d, v = zip(*models[i])
    fig.add_trace(go.Scatter(x=v, y=d, xaxis=xv, yaxis=ya, mode="lines",
                             line=dict(color="#e0141e", width=5, shape="spline", smoothing=0.6)))

    d, v = zip(*gpss[i])
    fig.add_trace(go.Scatter(x=v, y=d, xaxis=xv, yaxis=ya, mode="markers",
                             marker=dict(symbol="circle", size=13, color="#ffd21f",
                                         line=dict(color="#e6a000", width=1.5))))

    # fault bands and dashed lines
    for band, dash, x0, x1, fill, lc in [
        (atf_band[i], atf_dash[i], -5, 9, "rgba(235,30,30,0.6)", "#d42a2a"),
        (ha_band[i], ha_dash[i], 0, 15, "rgba(40,225,40,0.6)", "#33cc33"),
        (jk_band[i], jk_dash[i], 0, 20, "rgba(50,50,225,0.6)", "#2626c4"),
    ]:
        c, hw = band
        fig.add_shape(type="rect", xref=xv, yref=ya, x0=x0, x1=x1, y0=c - hw, y1=c + hw,
                      fillcolor=fill, line=dict(width=0), layer="above")
        fig.add_shape(type="line", xref=xv, yref=ya, x0=x0, x1=x1, y0=dash, y1=dash,
                      line=dict(color=lc, width=2, dash="12px,8px"), layer="above")

    # panel letters
    fig.add_annotation(xref=xv, yref=ya, x=8.85, y=-548, text=p, showarrow=False,
                       font=dict(size=44, color="#111"))
    fig.add_annotation(xref=xv, yref=ya, x=9.3, y=551, text=p + "’", showarrow=False,
                       font=dict(size=44, color="#111"))

    # slip rate labels
    for lab, rate, dd in [("ATF:", atf_rate[i], 400), ("H-A:", ha_rate[i], 450), ("J-K:", jk_rate[i], 500)]:
        sp = " " if len(rate.split("±")[0]) > 3 else NBSP + NBSP
        fig.add_annotation(xref=xv, yref=ya, x=-0.45, y=dd, xanchor="left", text=lab + sp + rate,
                           showarrow=False, bgcolor="rgba(255,255,255,0.6)", borderpad=3,
                           font=dict(size=32, color="#151515"))

# region names and DEM tag in panel A
xa, ya1 = ref("x", 1 + n), "y"
for txt, vv, dd in [("Tarim basin", 10.1, -460), ("(fixed)", 10.1, -429),
                    ("Tibean plateau", 10.1, 330), ("(eastward extrusion)", 9.9, 360)]:
    fig.add_annotation(xref=xa, yref=ya1, x=vv, y=dd, text=txt, showarrow=False,
                       font=dict(size=31, color="#151515"))
fig.add_annotation(xref=xa, yref=ya1, x=-1.5, y=222, text="DEM", textangle=90, showarrow=False,
                   font=dict(size=28, color="white"))

# eastward arrow
fig.add_shape(type="line", xref=xa, yref=ya1, x0=5.0, x1=10.6, y0=300, y1=300,
              line=dict(color="black", width=3))
fig.add_shape(type="path", xref=xa, yref=ya1, path="M 15.4,300 L 8.85,291 L 10.6,300 L 8.85,309 Z",
              fillcolor="white", line=dict(color="black", width=2.5))

# fault names (panel B)
xb, yb = ref("x", 2 + n), "y2"
for txt, vv, dd in [("ATF", 11.9, -171), ("H-A(HJBH-AKMS)", 11.8, -80), ("J-K(JSJS-KLF)", 11.9, 21)]:
    fig.add_annotation(xref=xb, yref=yb, x=vv, y=dd, text=txt, showarrow=False,
                       font=dict(size=38, color="#2f2fc8"))

# axis titles
for txt, px, py, ang in [("D (km)", -0.078, 0.5, -90), ("V (mm/yr)", 0.2139, -0.0485, 0),
                         ("DEM(km)", 0.1643, 1.0495, 0)]:
    fig.add_annotation(xref="paper", yref="paper", x=px, y=py, xanchor="center", yanchor="middle",
                       text=txt, textangle=ang, showarrow=False, font=dict(size=31, color="#111"))

# the page body adds a small offset, so the figure is a little smaller than the window
layout = dict(width=2182, height=2240, margin=dict(l=181, r=23, t=118, b=144),
              plot_bgcolor="white", paper_bgcolor="white", showlegend=False,
              font=dict(family=FONT, size=31, color="#111"))

for i in range(n):
    dom = [i / n, (i + 1) / n]
    layout[ref("xaxis", i + 1)] = dict(
        domain=dom, range=[0, 20], side="top", anchor=ref("y", i + 1),
        showgrid=False, zeroline=False, showline=True, mirror=True, linecolor="#111", linewidth=2,
        ticks="", tickvals=[2, 4, 6], showticklabels=(i == 1), ticklabelstandoff=16,
        tickfont=dict(size=34, color="#111"))
    layout[ref("xaxis", i + 1 + n)] = dict(
        overlaying=ref("x", i + 1), range=[-5, 25], side="bottom", anchor=ref("y", i + 1),
        showgrid=False, zeroline=False, showline=True, mirror="ticks", linecolor="#111", linewidth=2,
        ticks="outside", ticklen=13, tickwidth=1.5, tickcolor="#111", tick0=0, dtick=5,
        minor=dict(dtick=1, ticklen=7, tickwidth=1.2, ticks="outside", tickcolor="#111"),
        showticklabels=(i == 1), ticklabelstandoff=5, tickfont=dict(size=34, color="#111"))
    yax = dict(domain=[0, 1], range=[600, -600], anchor=ref("x", i + 1), showgrid=False, zeroline=False,
               showline=True, mirror="ticks", linecolor="#111", linewidth=2, tickcolor="#111")
    if i == 0:
        yax.update(ticks="outside", ticklen=11, tickwidth=1.5, dtick=200, tick0=-600, showticklabels=True,
                   ticklabelstandoff=12, tickfont=dict(size=34, color="#111"),
                   minor=dict(dtick=100, ticklen=11, tickwidth=1.5, ticks="outside", tickcolor="#111"))
    else:
        yax.update(ticks="inside", ticklen=12, tickwidth=1.5, dtick=100, tick0=0, showticklabels=False)
    layout[ref("yaxis", i + 1)] = yax

fig.update_layout(**layout)

fig.write_html("out.html")
